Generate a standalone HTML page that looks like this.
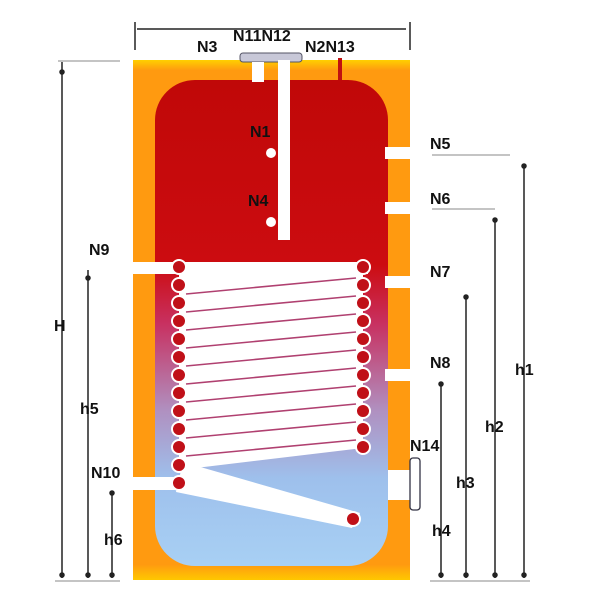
<!DOCTYPE html>
<html><head><meta charset="utf-8"><style>
html,body{margin:0;padding:0;background:#fff;width:600px;height:600px;overflow:hidden}
text{font-family:"Liberation Sans",sans-serif;font-weight:bold;fill:#111}
</style></head><body>
<svg width="600" height="600" viewBox="0 0 600 600" xmlns="http://www.w3.org/2000/svg">
<defs>
<linearGradient id="tank" x1="0" y1="0" x2="0" y2="1">
<stop offset="0" stop-color="#ffd000"/><stop offset="0.02" stop-color="#ff9a10"/><stop offset="0.97" stop-color="#ff9a10"/><stop offset="1" stop-color="#ffc800"/>
</linearGradient>
<linearGradient id="inner" x1="0" y1="0" x2="0" y2="1">
<stop offset="0" stop-color="#c00808"/><stop offset="0.38" stop-color="#cc0c10"/><stop offset="0.5" stop-color="#c83060"/><stop offset="0.68" stop-color="#b090c0"/><stop offset="0.82" stop-color="#9ec0ec"/><stop offset="1" stop-color="#a8d0f4"/>
</linearGradient>
</defs>
<rect x="133" y="60" width="277" height="520" fill="url(#tank)"/>
<rect x="155" y="80" width="233" height="486" rx="40" fill="url(#inner)"/>
<rect x="240" y="53" width="62" height="9" rx="3" fill="#c8c8d8" stroke="#556" stroke-width="1"/>
<rect x="252" y="62" width="12" height="20" fill="#fff"/>
<rect x="278" y="60" width="12" height="180" fill="#fff"/>
<rect x="338" y="58" width="4" height="22" fill="#c01010"/>
<circle cx="271" cy="153" r="5" fill="#fff"/>
<circle cx="271" cy="222" r="5" fill="#fff"/>
<rect x="385" y="147" width="25" height="12" fill="#fff"/>
<rect x="385" y="202" width="25" height="12" fill="#fff"/>
<rect x="385" y="276" width="25" height="12" fill="#fff"/>
<rect x="385" y="369" width="25" height="12" fill="#fff"/>
<rect x="388" y="470" width="22" height="30" fill="#fff"/>
<rect x="410" y="458" width="10" height="52" rx="3" fill="none" stroke="#334" stroke-width="1.3"/>
<rect x="133" y="262" width="235" height="12" fill="#fff"/>
<polygon points="179,272 363,262 363,448 179,470" fill="#fff"/>
<g stroke="#b04070" stroke-width="1.6">
<line x1="186" y1="294" x2="356" y2="278"/><line x1="186" y1="312" x2="356" y2="296"/>
<line x1="186" y1="330" x2="356" y2="314"/><line x1="186" y1="348" x2="356" y2="332"/>
<line x1="186" y1="366" x2="356" y2="350"/><line x1="186" y1="384" x2="356" y2="368"/>
<line x1="186" y1="402" x2="356" y2="386"/><line x1="186" y1="420" x2="356" y2="404"/>
<line x1="186" y1="438" x2="356" y2="422"/><line x1="186" y1="456" x2="356" y2="440"/>
</g>
<rect x="133" y="477" width="46" height="13" fill="#fff"/>
<polygon points="183,462 360,513 352,528 176,492" fill="#fff"/>
<g fill="#c01018" stroke="#fff" stroke-width="2">
<circle cx="179" cy="267" r="7"/><circle cx="179" cy="285" r="7"/><circle cx="179" cy="303" r="7"/><circle cx="179" cy="321" r="7"/><circle cx="179" cy="339" r="7"/><circle cx="179" cy="357" r="7"/><circle cx="179" cy="375" r="7"/><circle cx="179" cy="393" r="7"/><circle cx="179" cy="411" r="7"/><circle cx="179" cy="429" r="7"/><circle cx="179" cy="447" r="7"/><circle cx="179" cy="465" r="7"/><circle cx="179" cy="483" r="7"/>
<circle cx="363" cy="267" r="7"/><circle cx="363" cy="285" r="7"/><circle cx="363" cy="303" r="7"/><circle cx="363" cy="321" r="7"/><circle cx="363" cy="339" r="7"/><circle cx="363" cy="357" r="7"/><circle cx="363" cy="375" r="7"/><circle cx="363" cy="393" r="7"/><circle cx="363" cy="411" r="7"/><circle cx="363" cy="429" r="7"/><circle cx="363" cy="447" r="7"/>
<circle cx="353" cy="519" r="7"/>
</g>
<g stroke="#222" stroke-width="1.5" fill="#222">
<line x1="137" y1="29" x2="406" y2="29"/><line x1="135" y1="22" x2="135" y2="50"/><line x1="410" y1="22" x2="410" y2="50"/>
<line x1="62" y1="62" x2="62" y2="578"/><circle cx="62" cy="72" r="2"/><circle cx="62" cy="575" r="2"/>
<line x1="88" y1="270" x2="88" y2="578"/><circle cx="88" cy="278" r="2"/><circle cx="88" cy="575" r="2"/>
<line x1="112" y1="492" x2="112" y2="578"/><circle cx="112" cy="493" r="2"/><circle cx="112" cy="575" r="2"/>
<line x1="441" y1="383" x2="441" y2="578"/><circle cx="441" cy="384" r="2"/><circle cx="441" cy="575" r="2"/>
<line x1="466" y1="297" x2="466" y2="578"/><circle cx="466" cy="297" r="2"/><circle cx="466" cy="575" r="2"/>
<line x1="495" y1="220" x2="495" y2="578"/><circle cx="495" cy="220" r="2"/><circle cx="495" cy="575" r="2"/>
<line x1="524" y1="166" x2="524" y2="578"/><circle cx="524" cy="166" r="2"/><circle cx="524" cy="575" r="2"/>
</g>
<g stroke="#888" stroke-width="1">
<line x1="58" y1="61" x2="120" y2="61"/><line x1="55" y1="581" x2="120" y2="581"/><line x1="430" y1="581" x2="530" y2="581"/>
<line x1="432" y1="155" x2="510" y2="155"/><line x1="432" y1="209" x2="495" y2="209"/>
</g>
<g font-size="16">
<text x="197" y="52">N3</text><text x="233" y="41">N11N12</text><text x="305" y="52">N2N13</text>
<text x="250" y="137">N1</text><text x="248" y="206">N4</text>
<text x="430" y="149">N5</text><text x="430" y="204">N6</text><text x="430" y="277">N7</text><text x="430" y="368">N8</text>
<text x="89" y="255">N9</text><text x="91" y="478">N10</text><text x="410" y="451">N14</text>
<text x="54" y="331">H</text><text x="80" y="414">h5</text><text x="104" y="545">h6</text>
<text x="432" y="536">h4</text><text x="456" y="488">h3</text><text x="485" y="432">h2</text><text x="515" y="375">h1</text>
</g>
</svg>
</body></html>
